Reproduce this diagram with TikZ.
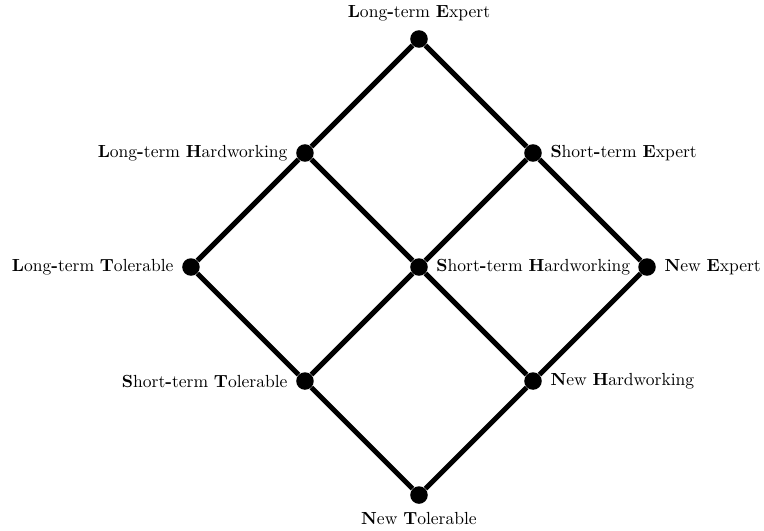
\documentclass[tikz,border=0pt]{standalone}
\usepackage{amsmath,amssymb}
\usepackage{xcolor}
\usepackage{tikz}
\usetikzlibrary{positioning}

\begin{document}
\begin{tikzpicture}[
			x=2.4cm, y=2.4cm,
			node distance=2.4cm and 2.4cm, on grid,
			state/.style={circle, fill=black, inner sep=0pt, minimum size=10.5pt},
			lbl/.style={font=\fontsize{10.5}{12}\selectfont, label distance=1.5pt},
			link/.style={line width=3pt}
		]
		\useasboundingbox (-3.675,-2.307) rectangle (3.026,2.342);

		% top of the lattice
		\node[state, label={[lbl]above:\textbf{L}ong\textbf{-}term \textbf{E}xpert}] (LE) at (0,2) {};

		\node[state, below left=of LE, label={[lbl]left:\textbf{L}ong\textbf{-}term \textbf{H}ardworking}] (LH) {};
		\node[state, below right=of LE, label={[lbl]right:\textbf{S}hort\textbf{-}term \textbf{E}xpert}] (SE) {};

		\node[state, below left=of LH, label={[lbl]left:\textbf{L}ong\textbf{-}term \textbf{T}olerable}] (LT) {};
		\node[state, below right=of LH, label={[lbl]right:\textbf{S}hort\textbf{-}term \textbf{H}ardworking}] (SH) {};
		\node[state, below right=of SE, label={[lbl]right:\textbf{N}ew \textbf{E}xpert}] (NE) {};

		\node[state, below left=of SH, label={[lbl]left:\textbf{S}hort\textbf{-}term \textbf{T}olerable}] (ST) {};
		\node[state, below right=of SH, label={[lbl]right:\textbf{N}ew \textbf{H}ardworking}] (NH) {};

		% bottom of the lattice
		\node[state, below right=of ST, label={[lbl]below:\textbf{N}ew \textbf{T}olerable}] (NT) {};

		\draw[link] (LE) -- (LH);
		\draw[link] (LE) -- (SE);
		\draw[link] (LH) -- (LT);
		\draw[link] (LH) -- (SH);
		\draw[link] (SE) -- (SH);
		\draw[link] (SE) -- (NE);
		\draw[link] (LT) -- (ST);
		\draw[link] (SH) -- (ST);
		\draw[link] (SH) -- (NH);
		\draw[link] (NE) -- (NH);
		\draw[link] (ST) -- (NT);
		\draw[link] (NH) -- (NT);
	\end{tikzpicture}
\end{document}
